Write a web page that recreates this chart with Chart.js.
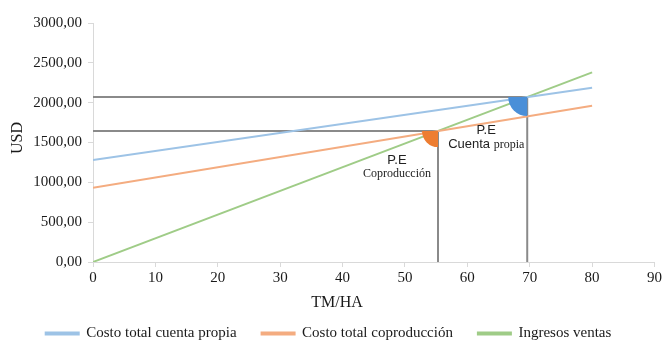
<!DOCTYPE html>
<html>
<head>
<meta charset="utf-8">
<script src="https://cdn.jsdelivr.net/npm/chart.js@4/dist/chart.umd.min.js"></script>
<style>
  html, body { margin: 0; padding: 0; background: #fff; }
</style>
</head>
<body>
<canvas id="myChart" width="664" height="341"></canvas>
<script>
// x values (TM/HA) where each line starts and ends
var xPoints = [0, 80];

var costoCuentaPropia = [1280, 2187];
var costoCoproduccion = [932, 1961];
var ingresosVentas = [0, 2380];

// break-even points: [coproducción, cuenta propia]
var peLabels = ['Coproducción', 'Cuenta propia'];
var peX = [55.3, 69.6];
var peY = [1643, 2070];
var peColors = ['#ed7d31', '#4a8fd8'];

var serif = '"Liberation Serif", "Times New Roman", serif';
var sans = '"Liberation Sans", Arial, sans-serif';

function toPoints(xs, ys) {
    return xs.map(function (x, i) { return { x: x, y: ys[i] }; });
}

function peGuide(i) {
    return [{ x: 0, y: peY[i] }, { x: peX[i], y: peY[i] }, { x: peX[i], y: 0 }];
}

// quarter circles, guide text and axis titles
var extras = {
    id: 'extras',
    afterLayout: function (chart) {
        // push the legend a bit lower, as in the original
        chart.legend.top += 10;
        chart.legend.bottom += 10;
    },
    afterDatasetsDraw: function (chart) {
        var c = chart.ctx, xs = chart.scales.x, ys = chart.scales.y;
        var radius = [16, 19];
        for (var i = 0; i < peX.length; i++) {
            var px = xs.getPixelForValue(peX[i]);
            var py = ys.getPixelForValue(peY[i]);
            c.save();
            c.fillStyle = peColors[i];
            c.beginPath();
            c.moveTo(px, py);
            c.arc(px, py, radius[i], Math.PI / 2, Math.PI);
            c.closePath();
            c.fill();

            c.fillStyle = '#222';
            c.textAlign = 'center';
            c.textBaseline = 'middle';
            var tx = px - 41, ty = py + (i === 0 ? 29 : 33);
            c.font = '13px ' + sans;
            c.fillText('P.E', tx, ty);
            if (i === 0) {
                c.font = '12px ' + serif;
                c.fillText(peLabels[0], tx, ty + 14);
            } else {
                c.font = '13px ' + sans;
                var w1 = c.measureText('Cuenta ').width;
                c.font = '12px ' + serif;
                var w2 = c.measureText('propia').width;
                var start = tx - (w1 + w2) / 2;
                c.textAlign = 'left';
                c.font = '13px ' + sans;
                c.fillText('Cuenta ', start, ty + 14);
                c.font = '12px ' + serif;
                c.fillText('propia', start + w1, ty + 15);
            }
            c.restore();
        }
    },
    afterDraw: function (chart) {
        var c = chart.ctx;
        c.save();
        c.fillStyle = '#1a1a1a';
        c.textAlign = 'center';
        c.textBaseline = 'middle';
        c.font = '16px ' + serif;
        c.fillText('TM/HA', 337, 303);
        c.translate(18, 138);
        c.rotate(-Math.PI / 2);
        c.fillText('USD', 0, 0);
        c.restore();
    }
};

var ctx = document.getElementById('myChart').getContext('2d');
var chart = new Chart(ctx, {
    type: 'line',
    data: {
        datasets: [
            {
                label: 'Costo total cuenta propia',
                data: toPoints(xPoints, costoCuentaPropia),
                borderColor: '#9dc3e6',
                backgroundColor: '#9dc3e6',
                borderWidth: 2
            },
            {
                label: 'Costo total coproducción',
                data: toPoints(xPoints, costoCoproduccion),
                borderColor: '#f4ac80',
                backgroundColor: '#f4ac80',
                borderWidth: 2
            },
            {
                label: 'Ingresos ventas',
                data: toPoints(xPoints, ingresosVentas),
                borderColor: '#9fcc87',
                backgroundColor: '#9fcc87',
                borderWidth: 2
            },
            {
                label: 'guide0',
                data: peGuide(0),
                borderColor: '#8a8a8a',
                borderWidth: 2
            },
            {
                label: 'guide1',
                data: peGuide(1),
                borderColor: '#8a8a8a',
                borderWidth: 2
            }
        ]
    },
    options: {
        responsive: false,
        animation: false,
        elements: { point: { radius: 0 }, line: { tension: 0 } },
        layout: { padding: { top: 23, right: 7, left: 0, bottom: 0 } },
        plugins: {
            tooltip: { enabled: false },
            legend: {
                position: 'bottom',
                labels: {
                    filter: function (item) { return item.text.indexOf('guide') !== 0; },
                    font: { family: serif, size: 15 },
                    color: '#1a1a1a',
                    boxWidth: 33,
                    boxHeight: 2,
                    padding: 25
                }
            }
        },
        scales: {
            x: {
                type: 'linear',
                min: 0,
                max: 90,
                ticks: { stepSize: 10, font: { family: serif, size: 15 }, color: '#1a1a1a', padding: 2 },
                grid: { drawOnChartArea: false, color: '#d9d9d9', tickLength: 5 },
                border: { color: '#d9d9d9' },
                afterFit: function (s) { s.height = 29; }
            },
            y: {
                min: 0,
                max: 3000,
                ticks: {
                    stepSize: 500,
                    font: { family: serif, size: 15 },
                    color: '#1a1a1a',
                    padding: 6,
                    callback: function (v) { return v.toFixed(2).replace('.', ','); }
                },
                grid: { drawOnChartArea: false, color: '#d9d9d9', tickLength: 5 },
                border: { color: '#d9d9d9' },
                afterFit: function (s) { s.width = 93; }
            }
        }
    },
    plugins: [extras]
});
</script>
</body>
</html>
